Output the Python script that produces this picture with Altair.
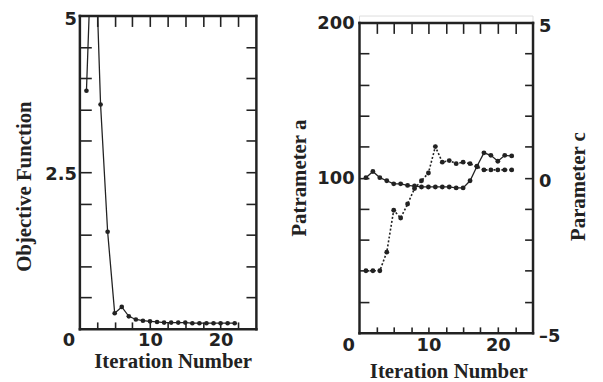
import altair as alt
import pandas as pd

# ---------------- data ----------------
iterations = list(range(1, 23))
objective = [3.8, 7.0, 3.58, 1.55, 0.25, 0.35, 0.2, 0.15, 0.13, 0.12, 0.11, 0.1,
             0.1, 0.1, 0.1, 0.09, 0.09, 0.09, 0.09, 0.09, 0.09, 0.09]
param_a = [40, 40, 40, 52, 79, 74, 83, 93, 98, 103, 120, 110,
           111, 109, 110, 109, 107, 105, 105, 105, 105, 105]
param_c = [0.0, 0.2, 0.0, -0.1, -0.2, -0.2, -0.25, -0.27, -0.3, -0.3, -0.3, -0.3,
           -0.3, -0.33, -0.33, -0.1, 0.37, 0.8, 0.72, 0.53, 0.72, 0.7]

x_labels = [0, 10, 20]
x_ticks = [2.5, 5, 7.5, 10, 12.5, 15, 17.5, 20, 22.5]
obj_labels = [2.5, 5]
obj_ticks = [0.5, 1.0, 1.5, 2.0, 2.5, 3.0, 3.5, 4.0, 4.5]
a_labels = [100, 200]
a_ticks = [20, 40, 60, 80, 100, 120, 140, 160, 180]
c_labels = [-5, 0, 5]
c_ticks = [-4, -3, -2, -1, 0, 1, 2, 3, 4]

df_obj = pd.DataFrame({"iter": iterations, "obj": objective})
df_par = pd.DataFrame({"iter": iterations, "a": param_a, "c": param_c})

INK = "#222222"
LABEL_FONT = "DejaVu Sans"
TITLE_FONT = "Liberation Serif"
LABEL_EXPR = "datum.value < 0 ? '\u2013' + abs(datum.value) : '' + datum.value"

zero_shift = {"condition": {"test": "datum.value === 0", "value": -11}, "value": 0}
top_shift = {"condition": {"test": "datum.value === 5", "value": 4}, "value": 2}


def frame_axis(orient, values, labels=False, title=None, **kw):
    return alt.Axis(orient=orient, values=values, domain=True, domainColor=INK,
                    domainWidth=2.5, domainCap="square", ticks=False, tickSize=0,
                    grid=False, labels=labels, title=title, labelExpr=LABEL_EXPR,
                    labelFont=LABEL_FONT, labelFontWeight="bold", labelFontSize=18,
                    labelColor=INK, labelOverlap=False, labelFlush=False,
                    titleFont=TITLE_FONT, titleFontWeight="bold", titleFontSize=21,
                    titleColor=INK, **kw)


def tick_axis(orient, values, size, extra=0):
    return alt.Axis(orient=orient, values=values, domain=False, ticks=True,
                    tickSize=size, tickWidth=1.6, tickColor=INK,
                    offset=-(size + extra), labels=False, grid=False, title=None)


# ---------------- left panel: objective function ----------------
xs = alt.Scale(domain=[0, 25], nice=False, zero=False)
ys_obj = alt.Scale(domain=[0, 5], nice=False, zero=False)
ob = alt.Chart(df_obj)

obj_line = ob.mark_line(color=INK, strokeWidth=1.3, clip=True).encode(
    x=alt.X("iter:Q", scale=xs,
            axis=frame_axis("bottom", x_labels, labels=True, title="Iteration Number",
                            labelPadding=3, labelOffset=zero_shift, titlePadding=1,
                            titleX=94)),
    y=alt.Y("obj:Q", scale=ys_obj,
            axis=frame_axis("left", obj_labels, labels=True, title="Objective Function",
                            labelPadding=3, labelOffset=top_shift, titlePadding=10,
                            titleY=172)),
)
obj_pts = ob.mark_circle(color=INK, size=22, opacity=1, clip=True).encode(
    x=alt.X("iter:Q", scale=xs, axis=tick_axis("bottom", x_ticks, 7)),
    y=alt.Y("obj:Q", scale=ys_obj, axis=tick_axis("left", obj_ticks, 12)),
)
obj_frame2 = ob.mark_point(opacity=0, clip=True).encode(
    x=alt.X("iter:Q", scale=xs, axis=frame_axis("top", x_ticks)),
    y=alt.Y("obj:Q", scale=ys_obj, axis=frame_axis("right", obj_ticks)),
)
obj_ticks2 = ob.mark_point(opacity=0, clip=True).encode(
    x=alt.X("iter:Q", scale=xs, axis=tick_axis("top", x_ticks, 11)),
    y=alt.Y("obj:Q", scale=ys_obj, axis=tick_axis("right", obj_ticks, 10)),
)
left = (
    alt.layer(obj_line, obj_pts, obj_frame2, obj_ticks2)
    .resolve_scale(x="shared", y="shared")
    .resolve_axis(x="independent", y="independent")
    .properties(width=178, height=316)
)

# ---------------- right panel: parameters ----------------
xs2 = alt.Scale(domain=[0, 25], nice=False, zero=False)
ya = alt.Scale(domain=[0, 200], range=[320, 7], nice=False, zero=False)
yc = alt.Scale(domain=[-5, 5], range=[320, 7], nice=False, zero=False)
pb = alt.Chart(df_par)

a_line = pb.mark_line(color=INK, strokeWidth=1.6, strokeDash=[2, 2]).encode(
    x=alt.X("iter:Q", scale=xs2,
            axis=frame_axis("bottom", x_labels, labels=True, title="Iteration Number",
                            labelPadding=4, labelOffset=zero_shift, titlePadding=6,
                            titleX=90)),
    y=alt.Y("a:Q", scale=ya,
            axis=frame_axis("left", a_labels, labels=True, title="Patrameter a",
                            labelPadding=5, labelOffset=1, titlePadding=7)),
)
a_pts = pb.mark_circle(color=INK, size=24, opacity=1).encode(
    x=alt.X("iter:Q", scale=xs2, axis=tick_axis("bottom", x_ticks, 6)),
    y=alt.Y("a:Q", scale=ya, axis=tick_axis("left", a_ticks, 10)),
)
c_line = pb.mark_line(color=INK, strokeWidth=1.3).encode(
    x=alt.X("iter:Q", scale=xs2, axis=frame_axis("top", x_ticks, offset=-7)),
    y=alt.Y("c:Q", scale=yc,
            axis=frame_axis("right", c_labels, labels=True, title="Parameter c",
                            labelPadding=6, labelOffset=4, titlePadding=8,
                            titleAngle=270, titleBaseline="top", titleY=172)),
)
c_pts = pb.mark_circle(color=INK, size=24, opacity=1).encode(
    x=alt.X("iter:Q", scale=xs2, axis=tick_axis("top", x_ticks, 11, extra=7)),
    y=alt.Y("c:Q", scale=yc, axis=tick_axis("right", c_ticks, 8)),
)
right = (
    alt.layer(a_line, a_pts, c_line, c_pts)
    .resolve_scale(x="shared", y="independent")
    .resolve_axis(x="independent", y="independent")
    .properties(width=175, height=320)
)

chart = (
    alt.hconcat(left, right, spacing=30)
    .properties(padding={"left": 5, "top": 0, "right": 5, "bottom": 0})
    .configure_view(stroke="transparent")
    .configure(background="white")
)

chart.save("out.html", embed_options={"renderer": "svg", "actions": False})
